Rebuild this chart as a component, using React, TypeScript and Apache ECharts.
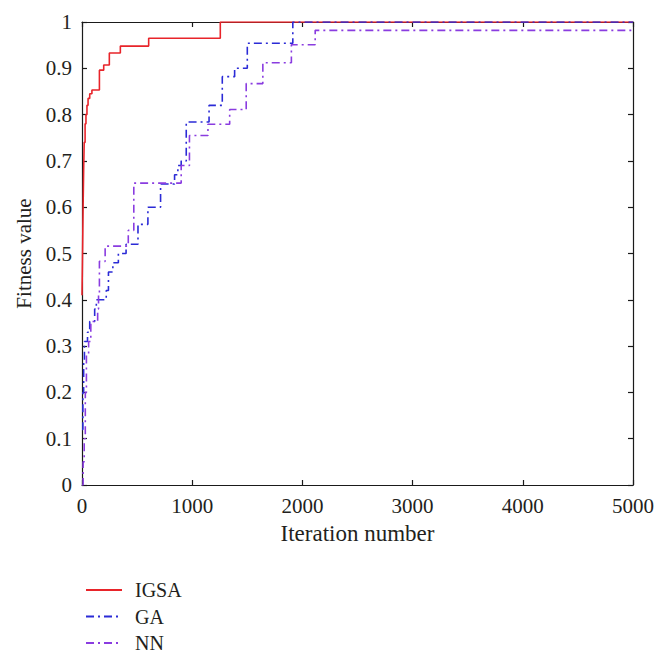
import React, { useEffect, useRef } from "react";
import * as echarts from "echarts";

// Iteration numbers where each series takes a new value, with the values
const igsaIter = [0, 5, 10, 15, 20, 28, 36, 45, 55, 70, 90, 158, 197, 248, 348, 605, 1255, 5000];
const igsaFit = [0.41, 0.5, 0.6, 0.68, 0.74, 0.78, 0.8, 0.82, 0.835, 0.845, 0.853, 0.896, 0.907, 0.933, 0.948, 0.965, 1.0, 1.0];

const gaIter = [0, 8, 15, 22, 50, 70, 115, 130, 220, 240, 280, 330, 400, 508, 598, 713, 840, 870, 900, 946, 1153, 1273, 1385, 1500, 1913, 5000];
const gaFit = [0.12, 0.2, 0.27, 0.31, 0.33, 0.353, 0.38, 0.4, 0.42, 0.46, 0.48, 0.5, 0.52, 0.563, 0.6, 0.65, 0.67, 0.69, 0.7, 0.784, 0.82, 0.882, 0.9, 0.954, 1.0, 1.0];

const nnIter = [0, 10, 20, 30, 40, 60, 80, 142, 150, 158, 210, 420, 470, 900, 975, 1143, 1340, 1490, 1641, 1900, 2116, 5000];
const nnFit = [0.0, 0.05, 0.1, 0.2, 0.28, 0.31, 0.353, 0.38, 0.41, 0.483, 0.516, 0.55, 0.652, 0.69, 0.755, 0.779, 0.811, 0.867, 0.912, 0.951, 0.982, 0.982];

const seriesNames = ["IGSA", "GA", "NN"];
const xName = "Iteration number";
const yName = "Fitness value";

const FONT = "Liberation Serif";
const TXT = "#231f20";
const AX = "#1a1a1a";

function pairs(xs: number[], ys: number[]) {
  return xs.map((x, i) => [x, ys[i]]);
}

export default function App() {
  const ref = useRef<HTMLDivElement>(null);
  useEffect(() => {
    if (!ref.current) return;
    const chart = echarts.init(ref.current, null, { renderer: "svg" });
    const axisCommon = {
      axisLine: { show: true, onZero: false, lineStyle: { color: AX, width: 1.2 } },
      axisTick: { show: true, inside: true, length: 5, lineStyle: { color: AX, width: 1.2 } },
      splitLine: { show: false },
    };
    chart.setOption({
      animation: false,
      backgroundColor: "#ffffff",
      grid: { left: 82, right: 35, top: 22, bottom: 175, containLabel: false },
      legend: {
        orient: "vertical",
        left: 80,
        top: 575,
        itemWidth: 36,
        itemHeight: 14,
        itemGap: 6.5,
        data: seriesNames,
        itemStyle: { color: "rgba(0,0,0,0)", borderWidth: 0 },
        textStyle: { fontFamily: FONT, fontSize: 20, color: TXT, padding: [0, 0, 0, 8] },
      },
      xAxis: [
        {
          type: "value",
          min: 0,
          max: 5000,
          interval: 1000,
          ...axisCommon,
          axisLabel: { fontFamily: FONT, fontSize: 21, color: TXT, margin: 10, formatter: (v: number) => String(v) },
          name: xName,
          nameLocation: "middle",
          nameGap: 37,
          nameTextStyle: { fontFamily: FONT, fontSize: 23, color: TXT },
        },
        {
          type: "value",
          position: "top",
          min: 0,
          max: 5000,
          interval: 1000,
          ...axisCommon,
          axisLabel: { show: false },
        },
      ],
      yAxis: [
        {
          type: "value",
          min: 0,
          max: 1,
          interval: 0.1,
          ...axisCommon,
          axisLabel: {
            fontFamily: FONT,
            fontSize: 21,
            color: TXT,
            margin: 10,
            formatter: (v: number) => String(Number(v.toFixed(1))),
          },
          name: yName,
          nameLocation: "middle",
          nameGap: 47,
          nameTextStyle: { fontFamily: FONT, fontSize: 21, color: TXT },
        },
        {
          type: "value",
          position: "right",
          min: 0,
          max: 1,
          interval: 0.1,
          ...axisCommon,
          axisLabel: { show: false },
        },
      ],
      series: [
        {
          name: seriesNames[0],
          type: "line",
          step: "end",
          symbol: "none",
          data: pairs(igsaIter, igsaFit),
          lineStyle: { color: "#e8242a", width: 1.6, type: "solid" },
          itemStyle: { color: "#e8242a" },
        },
        {
          name: seriesNames[1],
          type: "line",
          step: "end",
          symbol: "none",
          data: pairs(gaIter, gaFit),
          lineStyle: { color: "#2b2bd6", width: 1.6, type: [8, 4, 2, 4] },
          itemStyle: { color: "#2b2bd6" },
        },
        {
          name: seriesNames[2],
          type: "line",
          step: "end",
          symbol: "none",
          data: pairs(nnIter, nnFit),
          lineStyle: { color: "#8a3ce0", width: 1.6, type: [8, 4, 2, 4] },
          itemStyle: { color: "#8a3ce0" },
        },
      ],
    });
    return () => chart.dispose();
  }, []);
  return (
    <div
      ref={ref}
      style={{ position: "fixed", left: 0, top: 0, width: 668, height: 660, background: "#fff" }}
    />
  );
}
